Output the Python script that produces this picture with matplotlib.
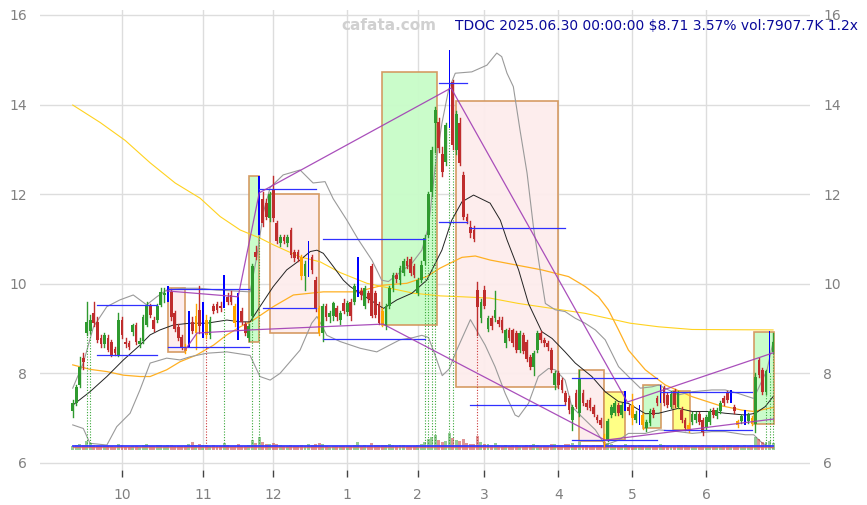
import matplotlib
matplotlib.use("Agg")
import matplotlib.pyplot as plt
from matplotlib.patches import Rectangle
import pandas as pd

# ---------------- data ----------------
holidays = ["2024-11-28", "2024-12-25", "2025-01-01", "2025-01-09", "2025-01-20",
            "2025-02-17", "2025-04-18", "2025-05-26", "2025-06-19"]
dates = pd.bdate_range("2024-09-11", "2025-06-30")
dates = dates[~dates.isin(pd.to_datetime(holidays))]

opens = [7.15, 7.35, 7.75, 8.35, 8.90, 8.95, 9.35, 9.15, 8.80, 8.65,
         8.80, 8.70, 8.55, 8.40, 9.20, 8.70, 8.68, 8.92, 9.08, 8.65,
         8.72, 9.08, 9.50, 9.20, 9.20, 9.53, 9.75, 9.64, 9.82, 9.35,
         9.04, 8.82, 8.60, 8.67, 9.15, 8.90, 9.42, 8.80, 9.20, 8.86,
         9.50, 9.55, 9.50, 9.50, 9.70, 9.75, 9.50, 9.77, 9.40, 9.10,
         8.80, 9.27, 10.70, 11.10, 11.90, 11.80, 11.47, 12.10, 11.35, 10.90,
         11.05, 10.90, 11.20, 10.70, 10.70, 10.60, 10.17, 10.20, 10.60, 10.09,
         9.46, 8.90, 9.50, 9.25, 9.27, 9.45, 9.20, 9.57, 9.38, 9.60,
         9.60, 9.75, 9.85, 9.50, 9.80, 10.40, 9.80, 9.55, 9.40, 9.05,
         9.50, 9.90, 10.20, 10.08, 10.25, 10.50, 10.55, 10.40, 9.80, 10.08,
         10.50, 11.10, 12.05, 13.60, 13.62, 12.90, 12.72, 14.30, 14.50, 12.98,
         13.58, 12.43, 11.50, 11.27, 11.20, 9.86, 9.23, 9.86, 9.00, 9.23,
         9.23, 9.20, 9.20, 8.67, 8.97, 8.97, 8.90, 8.52, 8.85, 8.70,
         8.37, 8.15, 8.52, 8.90, 8.75, 8.68, 8.52, 7.74, 8.00, 7.85,
         7.56, 7.45, 6.96, 7.56, 7.11, 7.56, 7.35, 7.40, 7.26, 7.03,
         6.96, 6.60, 6.52, 7.07, 7.11, 7.30, 7.08, 7.19, 7.26, 7.30,
         6.96, 6.89, 7.07, 6.77, 6.89, 7.18, 7.45, 7.37, 7.67, 7.52,
         7.26, 7.60, 7.26, 7.19, 6.96, 6.85, 6.92, 6.96, 7.10, 6.96,
         6.80, 6.92, 7.19, 7.04, 7.15, 7.45, 7.56, 7.37, 7.26, 6.93,
         6.93, 6.89, 6.93, 7.00, 6.88, 8.30, 8.07, 7.59, 8.04, 8.48]

highs = [7.40, 7.75, 8.37, 8.45, 9.60, 9.30, 9.60, 9.25, 8.85, 8.90,
         8.85, 8.75, 8.60, 9.35, 9.25, 8.80, 8.72, 9.10, 9.12, 8.78,
         9.30, 9.60, 9.55, 9.25, 9.55, 9.90, 9.90, 9.95, 9.88, 9.40,
         9.10, 8.85, 8.65, 9.40, 9.25, 9.55, 9.95, 9.60, 9.30, 9.25,
         9.55, 9.60, 9.60, 10.20, 9.80, 9.85, 9.55, 9.80, 9.45, 9.15,
         9.10, 10.45, 10.85, 12.40, 12.05, 11.90, 12.05, 12.40, 11.40, 11.10,
         11.10, 11.10, 11.25, 10.75, 10.75, 10.65, 10.50, 10.95, 10.65, 10.15,
         9.50, 9.55, 9.55, 9.40, 9.60, 9.50, 9.40, 9.65, 9.62, 9.65,
         10.00, 10.60, 9.90, 9.95, 9.85, 10.45, 9.85, 9.60, 9.45, 9.55,
         9.95, 10.25, 10.25, 10.40, 10.55, 10.60, 10.60, 10.45, 10.12, 10.50,
         11.10, 12.05, 13.05, 13.95, 13.70, 13.05, 13.60, 15.22, 14.55, 13.85,
         13.70, 12.50, 11.55, 11.40, 11.30, 10.05, 9.65, 9.95, 9.28, 9.28,
         9.85, 9.25, 9.25, 9.00, 9.02, 9.00, 8.95, 8.95, 8.90, 8.75,
         8.42, 8.50, 8.95, 8.95, 8.80, 8.72, 8.56, 8.05, 8.05, 7.90,
         7.60, 7.50, 7.30, 7.62, 8.08, 7.62, 7.40, 7.45, 7.30, 7.08,
         7.00, 6.65, 6.98, 7.30, 7.38, 7.35, 7.35, 7.60, 7.30, 7.55,
         7.15, 7.30, 7.12, 6.96, 7.20, 7.22, 7.50, 7.75, 7.72, 7.56,
         7.60, 7.65, 7.60, 7.24, 7.00, 6.90, 7.14, 7.14, 7.14, 7.00,
         7.07, 7.20, 7.23, 7.23, 7.38, 7.50, 7.60, 7.62, 7.30, 6.97,
         7.08, 7.19, 7.11, 7.04, 8.00, 8.35, 8.12, 8.08, 8.95, 8.90]

lows = [7.03, 7.30, 7.70, 8.10, 8.85, 8.90, 9.05, 8.70, 8.60, 8.60,
        8.50, 8.38, 8.40, 8.38, 8.80, 8.60, 8.55, 8.85, 8.65, 8.60,
        8.68, 9.05, 9.25, 8.95, 9.15, 9.50, 9.60, 9.60, 9.20, 8.95,
        8.75, 8.55, 8.45, 8.60, 8.90, 8.55, 8.90, 8.78, 8.80, 8.80,
        9.35, 9.38, 9.40, 9.45, 9.55, 9.55, 9.05, 8.75, 9.10, 8.85,
        8.72, 9.20, 10.55, 11.10, 11.30, 11.45, 11.40, 11.40, 10.90, 10.85,
        10.90, 10.85, 10.60, 10.50, 10.50, 10.10, 9.86, 10.15, 10.25, 9.40,
        8.85, 8.72, 9.20, 9.15, 9.20, 9.20, 9.10, 9.35, 9.30, 9.20,
        9.55, 9.70, 9.65, 9.45, 9.60, 9.25, 9.25, 9.10, 9.05, 8.98,
        9.45, 9.85, 10.05, 10.00, 10.20, 10.35, 10.20, 10.15, 9.75, 10.05,
        10.45, 11.05, 11.95, 12.95, 12.95, 12.40, 12.65, 13.47, 13.00, 12.90,
        12.65, 11.45, 11.35, 11.05, 10.95, 8.85, 9.15, 9.45, 8.95, 9.00,
        9.18, 9.05, 8.92, 8.60, 8.75, 8.62, 8.48, 8.48, 8.45, 8.28,
        8.10, 7.97, 8.48, 8.70, 8.62, 8.52, 8.02, 7.65, 7.68, 7.58,
        7.32, 7.12, 6.74, 7.22, 7.05, 7.30, 7.20, 7.18, 7.05, 6.92,
        6.80, 6.38, 6.48, 7.02, 7.06, 7.06, 7.03, 7.15, 7.10, 6.88,
        6.92, 6.85, 6.75, 6.72, 6.85, 7.02, 7.30, 7.33, 7.30, 7.26,
        7.22, 7.26, 7.22, 6.92, 6.74, 6.70, 6.88, 6.92, 6.88, 6.62,
        6.76, 6.88, 7.03, 7.00, 7.11, 7.30, 7.37, 7.33, 7.11, 6.81,
        6.89, 6.85, 6.89, 6.84, 6.70, 7.92, 7.55, 7.55, 8.00, 8.45]

closes = [7.35, 7.70, 8.15, 8.25, 9.15, 9.20, 9.12, 8.75, 8.65, 8.85,
          8.52, 8.41, 8.45, 9.20, 8.85, 8.65, 8.60, 9.08, 8.70, 8.72,
          9.26, 9.53, 9.30, 9.00, 9.50, 9.82, 9.80, 9.90, 9.26, 9.00,
          8.80, 8.60, 8.50, 9.38, 8.95, 9.27, 9.05, 9.55, 8.86, 9.20,
          9.40, 9.42, 9.45, 9.90, 9.60, 9.60, 9.12, 8.80, 9.15, 8.90,
          9.05, 10.40, 10.60, 12.05, 11.35, 11.50, 12.00, 11.47, 10.95, 11.05,
          10.95, 11.05, 10.65, 10.57, 10.55, 10.17, 10.45, 10.86, 10.30, 9.45,
          8.90, 9.50, 9.25, 9.35, 9.57, 9.25, 9.35, 9.40, 9.57, 9.27,
          9.94, 9.85, 9.75, 9.90, 9.65, 9.27, 9.30, 9.12, 9.10, 9.50,
          9.90, 10.20, 10.10, 10.35, 10.50, 10.40, 10.25, 10.20, 10.08, 10.42,
          11.02, 12.00, 12.98, 13.88, 13.03, 12.50, 13.54, 14.45, 13.10, 13.80,
          12.69, 11.50, 11.40, 11.13, 11.00, 9.49, 9.60, 9.50, 9.23, 9.05,
          9.42, 9.10, 8.97, 8.97, 8.80, 8.67, 8.52, 8.90, 8.50, 8.33,
          8.15, 8.45, 8.90, 8.75, 8.68, 8.58, 8.08, 8.00, 7.74, 7.63,
          7.37, 7.18, 7.26, 7.26, 7.90, 7.35, 7.26, 7.22, 7.10, 6.96,
          6.85, 6.52, 6.93, 7.26, 7.34, 7.11, 7.30, 7.37, 7.15, 7.00,
          7.10, 7.26, 6.85, 6.92, 7.15, 7.07, 7.34, 7.71, 7.34, 7.30,
          7.55, 7.30, 7.56, 6.96, 6.78, 6.75, 7.10, 7.10, 6.92, 6.70,
          7.03, 7.15, 7.07, 7.19, 7.34, 7.34, 7.41, 7.60, 7.15, 6.85,
          7.04, 7.15, 7.07, 6.88, 7.92, 7.96, 7.59, 8.05, 8.41, 8.71]

volumes_k = [4200, 5100, 6800, 5200, 9800, 7400, 5600, 4800, 4300, 3900,
             4100, 4500, 3800, 6900, 5200, 3600, 3400, 4700, 4400, 3500,
             5800, 6200, 4900, 4300, 5100, 5600, 4700, 5300, 5900, 4800,
             4400, 4600, 4100, 7200, 8800, 5400, 6600, 6100, 5800, 4500,
             5200, 4700, 4200, 7800, 5100, 4600, 4300, 6900, 4800, 4500,
             5200, 11500, 7300, 14200, 8400, 6200, 7100, 8300, 6900, 5200,
             4600, 4900, 5800, 4700, 4300, 5100, 4800, 6400, 5300, 6900,
             7600, 6800, 4900, 3800, 4400, 4200, 3900, 4600, 4300, 4800,
             5600, 8900, 4700, 5200, 4400, 7800, 5600, 5100, 5300, 5900,
             6400, 6100, 4800, 5200, 5500, 4600, 4900, 4300, 5300, 6200,
             8400, 12800, 14500, 16200, 11300, 9400, 10200, 18600, 13900, 10800,
             9600, 12400, 7800, 6900, 6500, 15800, 8700, 7100, 6300, 5800,
             7400, 5200, 4900, 5300, 4600, 5100, 5600, 5000, 4700, 5300,
             5900, 6200, 5500, 4600, 4300, 4500, 6800, 7200, 5900, 5600,
             6300, 6700, 7800, 6100, 9400, 5900, 5200, 4900, 5100, 5400,
             5800, 8600, 7900, 6300, 5100, 4800, 5000, 6400, 4600, 6100,
             4700, 5300, 5600, 4900, 5200, 4400, 4800, 6200, 5400, 4700,
             4900, 4600, 5100, 5300, 5500, 4800, 4200, 4100, 4400, 5300,
             4600, 4800, 4200, 4500, 4900, 5100, 5300, 5600, 4700, 5200,
             4600, 5400, 4800, 5100, 14600, 11800, 9300, 8700, 9900, 7908]

blue_days = [27, 33, 37, 43, 47, 53, 67, 81, 107, 157, 161, 167, 187, 191, 198]
orange_days = [32, 35, 38, 46, 65, 70, 88, 151, 159, 162, 175, 189, 193]
green_signal_days = [4, 5, 43, 51, 53, 100, 101, 102, 103, 107, 108, 197, 198, 199]
red_signal_days = [38, 115]

# indicator lines (day index, price)
mid_x = [0, 4.9, 9.7, 14.4, 19.1, 22.0, 24.8, 28.6, 33.3, 38.1, 43.8, 47.6, 50.4, 53.2, 57.0,
         60.8, 64.6, 67.5, 69.4, 71.2, 74.1, 76.9, 78.8, 84.5, 88.3, 92.1, 96.4, 100.6, 104.9,
         107.7, 110.6, 113.9, 118.6, 121.5, 123.4, 126.7, 129.5, 133.3, 136.2, 139.9, 142.8,
         147.5, 151.3, 155.1, 157.9, 162.7, 166.5, 172.1, 176.0, 181.6, 185.4, 191.1, 194.0,
         196.8, 199.0]
mid_y = [7.29, 7.59, 7.93, 8.30, 8.63, 8.86, 8.97, 9.08, 9.12, 9.12, 9.19, 9.15, 9.15, 9.49, 9.94,
         10.31, 10.53, 10.72, 10.75, 10.68, 10.38, 10.08, 9.94, 9.64, 9.45, 9.64, 9.79, 10.08, 10.75,
         11.42, 11.83, 11.98, 11.80, 11.42, 10.98, 10.31, 9.56, 8.93, 8.78, 8.48, 8.23,
         7.93, 7.59, 7.37, 7.33, 7.10, 7.11, 7.22, 7.15, 7.15, 7.11, 7.07, 7.11,
         7.26, 7.48]

up_x = [0, 3.0, 5.9, 9.7, 13.4, 17.2, 21.0, 23.9, 26.7, 31.4, 36.2, 40.9, 50.4, 52.3, 54.2, 56.1,
        59.8, 64.6, 68.3, 71.7, 74.0, 77.9, 81.2, 85.0, 87.8, 89.7, 92.6, 96.4, 99.2, 101.1, 103.0,
        104.9, 106.8, 108.7, 113.4, 117.7, 120.5, 121.9, 123.4, 125.2, 127.1, 129.1, 130.9, 132.8,
        134.3, 137.1, 139.9, 142.8, 145.6, 148.5, 151.3, 155.1, 157.9, 161.3, 164.6, 166.5, 172.1,
        176.0, 181.6, 185.4, 189.2, 193.5, 197.3, 199.0]
up_y = [7.67, 8.23, 9.04, 9.49, 9.64, 9.75, 9.53, 9.71, 9.86, 9.90, 9.90, 9.86, 9.82, 10.60, 11.60, 12.15,
        12.43, 12.54, 12.25, 12.28, 11.90, 11.42, 10.98, 10.53, 10.08, 10.05, 10.23, 10.46, 10.75, 11.28, 12.61,
        13.58, 14.33, 14.70, 14.73, 14.88, 15.15, 15.07, 14.70, 14.40, 13.43, 12.47, 11.28, 10.31,
        9.56, 9.42, 9.38, 9.23, 9.12, 8.97, 8.75, 8.15, 7.93, 7.67, 7.70, 7.74, 7.52,
        7.59, 7.63, 7.63, 7.55, 7.44, 8.08, 8.70]

lo_x = [0, 3.0, 4.9, 9.7, 12.5, 16.3, 19.1, 22.0, 26.7, 30.5, 33.3, 38.1, 43.8, 50.4, 53.2, 56.1,
        58.9, 64.6, 67.9, 69.4, 72.2, 76.0, 81.7, 86.4, 89.3, 93.0, 96.8, 99.2, 101.1, 103.0, 105.0,
        107.0, 109.0, 113.0, 117.2, 120.0, 122.9, 125.7, 126.7, 129.5, 132.3, 135.2, 137.1, 139.9,
        141.8, 144.7, 148.5, 151.3, 155.1, 157.9, 162.7, 166.5, 172.1, 176.0, 181.6, 185.4, 191.1,
        193.5, 196.0, 199.0]
lo_y = [6.85, 6.77, 6.44, 6.40, 6.81, 7.11, 7.63, 8.23, 8.34, 8.30, 8.37, 8.45, 8.48, 8.40, 7.93, 7.85,
        8.00, 8.52, 9.12, 9.27, 8.85, 8.71, 8.56, 8.48, 8.60, 8.75, 8.80, 8.85, 8.80, 8.40, 7.95,
        8.10, 8.50, 9.20, 8.63, 8.15, 7.55, 7.07, 7.03, 7.33, 7.93, 8.11, 8.08, 7.85,
        7.26, 7.03, 6.74, 6.40, 6.51, 6.66, 6.66, 6.74, 6.70, 6.66, 6.70, 6.70, 6.63,
        6.63, 6.44, 6.33]

ma_x = [0, 4.9, 9.7, 14.4, 19.1, 22.0, 26.7, 30.5, 35.2, 40.0, 43.8, 47.6, 51.3, 57.0, 62.7, 71.2,
        80.7, 88.3, 94.9, 100.6, 104.4, 110.6, 114.4, 118.6, 133.3, 140.9, 145.6, 149.4, 152.2,
        155.1, 157.9, 162.7, 168.4, 176.0, 183.5, 190.2, 193.5, 199.0]
ma_y = [8.19, 8.09, 8.04, 7.96, 7.93, 7.93, 8.08, 8.26, 8.41, 8.63, 8.86, 9.04, 9.19, 9.49, 9.75, 9.82,
        9.82, 9.97, 10.01, 10.16, 10.35, 10.59, 10.62, 10.53, 10.31, 10.16, 9.94, 9.71, 9.42,
        8.97, 8.52, 8.08, 7.74, 7.48, 7.29, 7.18, 7.15, 7.24]

lma_x = [0, 7.8, 14.9, 22.0, 29.1, 36.2, 41.9, 47.6, 53.2, 57.0, 64.6, 70.3, 76.0, 83.6, 90.2, 96.8,
         104.4, 110.6, 118.6, 126.7, 136.2, 145.6, 158.4, 166.5, 176.0, 199.0]
lma_y = [13.99, 13.60, 13.20, 12.70, 12.25, 11.91, 11.50, 11.20, 11.02, 10.87, 10.60, 10.49, 10.25,
         10.01, 9.90, 9.79, 9.73, 9.71, 9.68, 9.56, 9.45, 9.34, 9.12, 9.04, 8.98, 8.97]

zig_hi_x = [26.8, 47.0, 53.0, 107.5, 157.6, 199.1]
zig_hi_y = [9.84, 9.71, 12.03, 14.37, 7.36, 8.46]
zig_lo_x = [31.9, 35.3, 50.4, 88.2, 151.3, 199.1]
zig_lo_y = [8.52, 8.90, 8.97, 9.10, 6.51, 6.98]

# boxes: start day, end day, low, high, kind
box_start = [27, 50, 56, 88, 109, 144, 151, 162, 170.5, 193.5]
box_end = [32, 53, 70, 103.4, 138, 151, 157, 167.3, 175.3, 199.3]
box_low = [8.48, 8.69, 8.91, 9.08, 7.70, 6.48, 6.51, 6.77, 6.73, 6.87]
box_high = [9.90, 12.40, 12.00, 14.73, 14.08, 8.08, 7.58, 7.74, 7.60, 8.93]
box_kind = ["down", "up", "down", "up", "down", "down", "flat", "up", "flat", "up"]

# horizontal levels: start day, end day, price
lvl_start = [7, 7, 27, 27, 53, 54, 71, 71, 104, 104, 113, 113, 142, 142, 167, 168]
lvl_end = [24, 24, 50, 50, 69, 69, 100, 100, 112, 112, 140, 140, 166, 166, 193, 193]
lvl_price = [9.53, 8.41, 9.88, 8.58, 12.11, 9.45, 10.99, 8.76, 14.48, 11.39, 11.24, 7.29,
             7.89, 6.51, 7.59, 6.74]

# ---------------- figure ----------------
GREEN = "#2f9a2f"
RED = "#bf2d2d"
n = len(closes)

fig = plt.figure(figsize=(8.67, 5.05), dpi=100)
ax = fig.add_axes([40 / 867, (505 - 469.7) / 505, 770 / 867, 459.2 / 505])
ax.set_xlim(-9.3, 209.5)
ax.set_ylim(5.85, 16.1)

for s in ax.spines.values():
    s.set_visible(False)
ax.set_axisbelow(True)
ax.grid(True, color="#dddddd", linewidth=1.0)

months = dates.month
tick_pos = [k for k in range(1, n) if months[k] != months[k - 1]]
ax.set_xticks(tick_pos)
ax.set_xticklabels([str(months[k]) for k in tick_pos])
ax.set_yticks([6, 8, 10, 12, 14, 16])
ax.tick_params(axis="x", colors="#444444", labelcolor="#808080", length=5, width=1,
               labelsize=10, pad=8)
ax.tick_params(axis="y", left=False, right=False, labelleft=True, labelright=True,
               labelcolor="#808080", labelsize=10, pad=6)

# boxes
fills = {"up": "#c8fcc8", "down": "#fdecec", "flat": "#ffff80"}
for a, b, lo, hi, k in zip(box_start, box_end, box_low, box_high, box_kind):
    ax.add_patch(Rectangle((a, lo), b - a, hi - lo, facecolor=fills[k], edgecolor="#d4965c",
                           linewidth=1.2, alpha=0.95, zorder=1))

# indicator lines
ax.plot(lma_x, lma_y, color="#ffd21f", lw=0.8, zorder=2)
ax.plot(ma_x, ma_y, color="#ffb022", lw=0.9, zorder=2)
ax.plot(up_x, up_y, color="#9a9a9a", lw=0.8, zorder=2)
ax.plot(lo_x, lo_y, color="#9a9a9a", lw=0.8, zorder=2)
ax.plot(mid_x, mid_y, color="#222222", lw=0.7, zorder=2)

# signal dotted lines
for d in green_signal_days:
    ax.plot([d, d], [6.38, lows[d]], color="#3aa83a", lw=0.8, ls=(0, (1, 1.5)), zorder=2)
for d in red_signal_days:
    ax.plot([d, d], [6.38, lows[d]], color="#cc3b3b", lw=0.8, ls=(0, (1, 1.5)), zorder=2)

# volume
vbase = 6.29
for i in range(n):
    c = GREEN if closes[i] >= opens[i] else RED
    ax.add_patch(Rectangle((i - 0.42, vbase), 0.84, volumes_k[i] / 50000.0, facecolor=c,
                           alpha=0.5, edgecolor="none", zorder=2))
ax.plot([0, n - 1], [6.355, 6.355], color="#e06060", lw=1.0, alpha=0.8, zorder=3)
ax.plot([0, n - 1], [6.385, 6.385], color="#3838ff", lw=1.3, zorder=3)

# candles
for i in range(n):
    o, h, l, c = opens[i], highs[i], lows[i], closes[i]
    if i in blue_days:
        ax.add_patch(Rectangle((i - 0.22, l), 0.44, h - l, facecolor="#0000ff",
                               edgecolor="none", zorder=5))
        continue
    if i in orange_days:
        col = "#ffa500"
    else:
        col = GREEN if c >= o else RED
    ax.plot([i, i], [l, h], color=col, lw=1.0, zorder=4)
    lo_b, hi_b = min(o, c), max(o, c)
    ax.add_patch(Rectangle((i - 0.39, lo_b), 0.78, max(hi_b - lo_b, 0.02), facecolor=col,
                           edgecolor="none", zorder=4))

# levels
for a, b, p in zip(lvl_start, lvl_end, lvl_price):
    ax.plot([a, b], [p, p], color="#3030ff", lw=0.9, zorder=6)

# zigzag lines
ax.plot(zig_hi_x, zig_hi_y, color="#a03cb4", lw=0.9, alpha=0.9, zorder=6)
ax.plot(zig_lo_x, zig_lo_y, color="#a03cb4", lw=0.9, alpha=0.9, zorder=6)

# texts
fig.text(389 / 867, 1 - 26 / 505, "cafata.com", ha="center", va="center", fontsize=11,
         fontweight="bold", color="#d0d0d0")
fig.text(455 / 867, 1 - 26 / 505, "TDOC 2025.06.30 00:00:00 $8.71 3.57% vol:7907.7K 1.2x",
         ha="left", va="center", fontsize=10, color="#0a0a9a")

fig.savefig("out.png", dpi=100)
